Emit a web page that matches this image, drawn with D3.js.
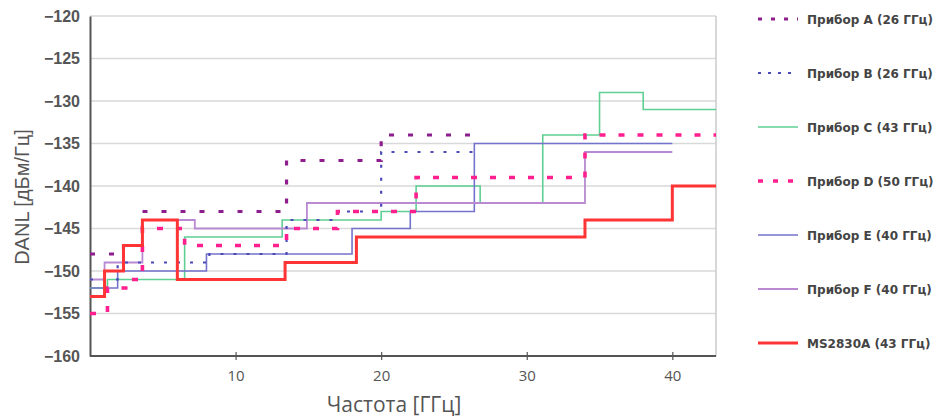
<!DOCTYPE html>
<html><head><meta charset="utf-8">
<script src="https://cdn.jsdelivr.net/npm/d3@7"></script>
<style>body{margin:0;background:#fff}svg{display:block}</style>
</head><body>
<svg id="c" width="942" height="417"></svg>
<script>
// ---- data ----
const seriesNames = ["Прибор A (26 ГГц)","Прибор B (26 ГГц)","Прибор C (43 ГГц)","Прибор D (50 ГГц)","Прибор E (40 ГГц)","Прибор F (40 ГГц)","MS2830A (43 ГГц)"];
const freqA = [0, 2.3, 3.6, 13.5, 20, 26.5];
const danlA = [-148, -147, -143, -137, -134, -134];
const freqB = [0, 1.9, 8.2, 13.5, 17, 20, 26.5];
const danlB = [-151, -149, -148, -144, -143, -136, -136];
const freqC = [0, 1.2, 6.5, 13.2, 20, 22.4, 26.8, 31.1, 35, 38, 43];
const danlC = [-152, -151, -146, -144, -143, -140, -142, -134, -129, -131, -131];
const freqD = [0, 1.2, 3, 3.6, 6.5, 13.5, 17, 22.4, 34, 43];
const danlD = [-155, -152, -151, -145, -147, -145, -143, -139, -134, -134];
const freqE = [0, 1.9, 8, 18, 22, 26.4, 40];
const danlE = [-152, -150, -148, -145, -143, -135, -135];
const freqF = [0, 1, 3.6, 7.2, 14.9, 34, 40];
const danlF = [-151, -149, -144, -145, -142, -136, -136];
const freqMS = [0, 1, 2.3, 3.6, 6, 13.4, 18.3, 34, 40, 43];
const danlMS = [-153, -150, -147, -144, -151, -149, -146, -144, -140, -140];
const yTicks = [-160, -155, -150, -145, -140, -135, -130, -125, -120];
const xTicks = [10, 20, 30, 40];

// ---- styles ----
const styles = [
  {color:"#8e1e8e", w:3.2, dash:"5,14", ldash:"4,9"},
  {color:"#4a4ab8", w:2.2, dash:"3,10", ldash:"3,7"},
  {color:"#5fd093", w:1.6, dash:null},
  {color:"#ff1f8f", w:3.6, dash:"6,13", ldash:"5,10"},
  {color:"#7373cc", w:1.6, dash:null},
  {color:"#b98ad2", w:1.8, dash:null},
  {color:"#ff3434", w:3, dash:null}
];
const freqs = [freqA, freqB, freqC, freqD, freqE, freqF, freqMS];
const danls = [danlA, danlB, danlC, danlD, danlE, danlF, danlMS];

const svg = d3.select("#c");
const x = d3.scaleLinear().domain([0, 43]).range([90, 716]);
const y = d3.scaleLinear().domain([-160, -120]).range([356, 16]);

// grid
svg.append("g").selectAll("line").data(yTicks.filter(v => v > -160)).join("line")
  .attr("x1", x(0)).attr("x2", x(43)).attr("y1", d => y(d)).attr("y2", d => y(d))
  .attr("stroke", "#d9d9d9").attr("stroke-width", 1.6);
svg.append("line").attr("x1", x(43)).attr("x2", x(43)).attr("y1", y(-120)).attr("y2", y(-160))
  .attr("stroke", "#c8c8c8").attr("stroke-width", 1.4);

// axes
const yAxis = d3.axisLeft(y).tickValues(yTicks).tickSize(0).tickPadding(10);
const gy = svg.append("g").attr("transform", `translate(${x(0)},0)`).call(yAxis);
gy.select(".domain").attr("stroke", "#555").attr("stroke-width", 2);
gy.selectAll("text").attr("font-family", "Liberation Sans, Arial, sans-serif")
  .attr("font-size", 16).attr("font-weight", "bold").attr("fill", "#555");

const xAxis = d3.axisBottom(x).tickValues(xTicks).tickSize(4).tickPadding(10);
const gx = svg.append("g").attr("transform", `translate(0,${y(-160)})`).call(xAxis);
gx.select(".domain").attr("stroke", "#555").attr("stroke-width", 2).attr("d", `M${x(0)},0H${x(43)}`);
gx.selectAll(".tick line").attr("stroke", "#555").attr("y1", -4).attr("y2", 4).attr("stroke-width", 1.2);
gx.selectAll("text").attr("font-family", "Open Sans, sans-serif").attr("font-size", 15).attr("fill", "#555");

// series
const line = d3.line().x(d => x(d[0])).y(d => y(d[1])).curve(d3.curveStepAfter);
const drawOrder = [2, 4, 5, 1, 0, 3, 6];
drawOrder.forEach(i => {
  const pts = freqs[i].map((f, k) => [f, danls[i][k]]);
  const p = svg.append("path").attr("d", line(pts)).attr("fill", "none")
    .attr("stroke", styles[i].color).attr("stroke-width", styles[i].w);
  if (styles[i].dash) p.attr("stroke-dasharray", styles[i].dash);
});

// axis titles
svg.append("text").attr("transform", `translate(29,197) rotate(-90)`)
  .attr("text-anchor", "middle").attr("font-family", "Liberation Sans, Arial, sans-serif")
  .attr("font-size", 20).attr("fill", "#555").text("DANL [дБм/Гц]");
svg.append("text").attr("x", 394).attr("y", 412).attr("text-anchor", "middle")
  .attr("font-family", "Open Sans, sans-serif").attr("font-size", 21).attr("fill", "#555")
  .text("Частота [ГГц]");

// legend
const leg = svg.append("g");
seriesNames.forEach((name, i) => {
  const ly = 19 + i * 54;
  const l = leg.append("line").attr("x1", 758).attr("x2", 798).attr("y1", ly).attr("y2", ly)
    .attr("stroke", styles[i].color).attr("stroke-width", styles[i].w);
  if (styles[i].ldash) l.attr("stroke-dasharray", styles[i].ldash);
  leg.append("text").attr("x", 807).attr("y", ly + 4.5)
    .attr("font-family", "DejaVu Sans, sans-serif").attr("font-size", 12)
    .attr("font-weight", "bold").attr("fill", "#444").text(name);
});
</script>
</body></html>
